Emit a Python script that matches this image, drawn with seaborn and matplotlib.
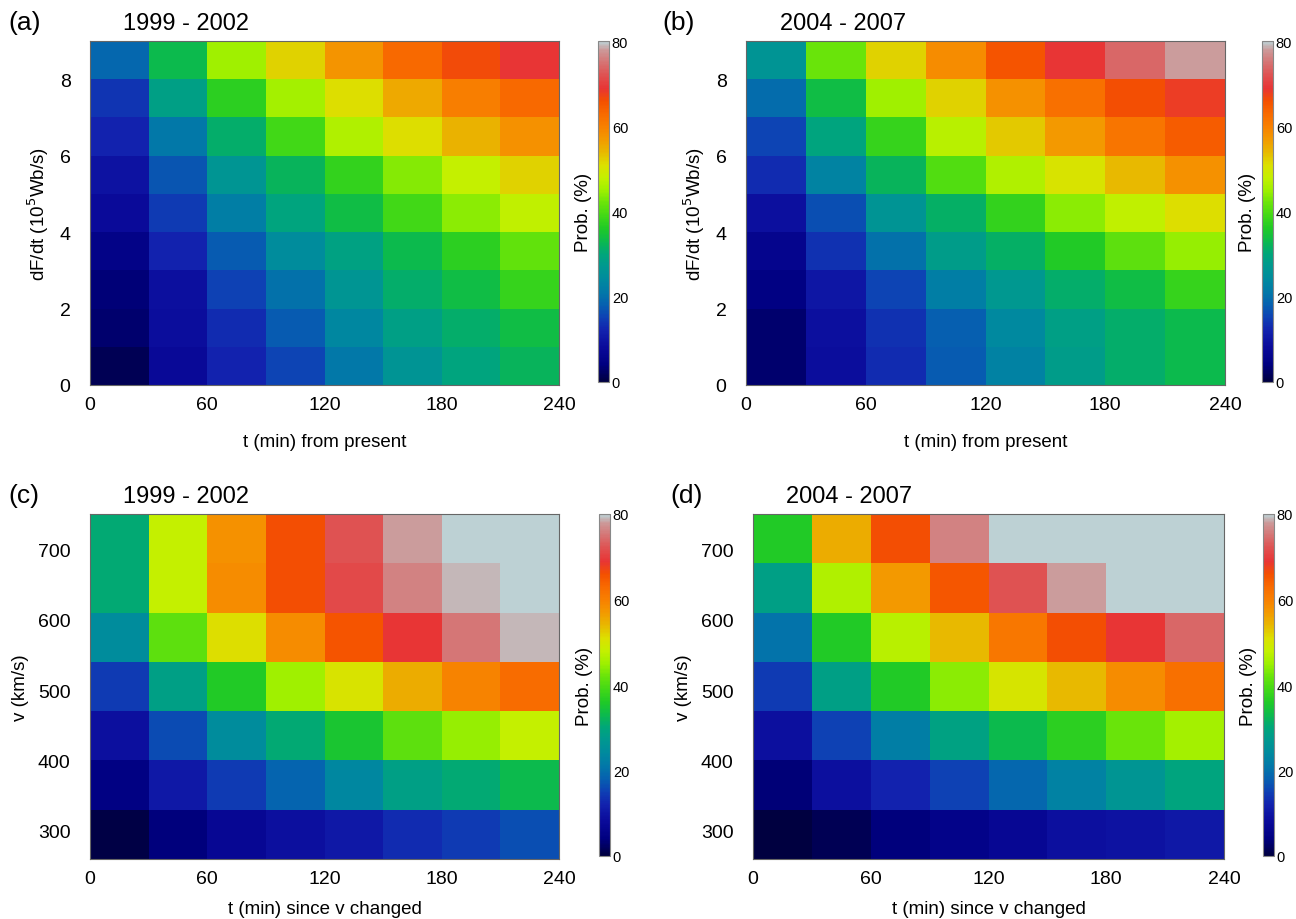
import matplotlib
matplotlib.use("Agg")
import matplotlib.pyplot as plt
from matplotlib.colors import LinearSegmentedColormap
from matplotlib.ticker import MultipleLocator
import numpy as np
import pandas as pd
import seaborn as sns

# time bins (min), 30 min wide, 0..240
t_edges = [0, 30, 60, 90, 120, 150, 180, 210, 240]
# dF/dt bins (10^5 Wb/s), bottom to top
dfdt_edges = [0, 1, 2, 3, 4, 5, 6, 7, 8, 9]
# v bins (km/s), bottom to top
v_edges = [260, 330, 400, 470, 540, 610, 680, 750]

# probabilities (%), rows listed bottom -> top
prob_a = [
    [1.5, 7.5, 12, 15.5, 21, 26, 29.5, 32],
    [3, 8.5, 13, 17.5, 23.5, 28.5, 31, 33.5],
    [3.5, 9, 15, 20, 26.5, 31, 33.5, 38],
    [5, 12, 17.5, 24.5, 29, 33, 37, 41.5],
    [8, 14.5, 22, 29.5, 33.5, 39, 44, 47.5],
    [9.5, 17, 26.5, 32, 37.5, 43.5, 48, 52],
    [12, 21, 31, 39, 46.5, 51, 54.5, 58],
    [14, 28.5, 37, 45.5, 51, 55.5, 60, 63],
    [19, 33, 45, 52, 57.5, 63, 66.5, 69],
]
prob_b = [
    [3, 8.5, 13, 17.5, 22.5, 28, 31, 33],
    [3, 9, 13.5, 18, 24, 28.5, 31, 33],
    [4.5, 10, 15.5, 22, 27, 31, 33.5, 38],
    [6, 13.5, 20, 28, 31.5, 36, 41, 44.5],
    [9, 16.5, 26, 31.5, 37.5, 44, 47.5, 51],
    [13, 23, 32, 40, 46.5, 50.5, 54, 58],
    [15.5, 29.5, 38, 47, 52.5, 57, 61.5, 64.5],
    [19.5, 33.5, 45, 52, 58, 62, 66, 68],
    [26, 42, 52, 58.5, 65.5, 69, 74, 78],
]
prob_c = [
    [0.5, 4, 7, 9, 10.5, 13, 14.5, 16.5],
    [4.5, 10.5, 14.5, 18.5, 23.5, 28.5, 30.5, 33],
    [9, 16, 24.5, 30.5, 35, 41, 44.5, 48],
    [14.5, 28.5, 36, 45, 50.5, 55, 59.5, 62.5],
    [24.5, 41, 51, 58.5, 65.5, 69, 75, 78.8],
    [30.5, 48, 58.5, 66, 71, 76, 79, 85],
    [30.5, 48, 58, 66, 72, 78, 85, 85],
]
prob_d = [
    [0, 1.5, 4, 5.5, 7, 9, 9.5, 10.5],
    [3.5, 9, 12, 15, 19, 22.5, 26.5, 29.5],
    [9, 15, 22, 29, 33, 37, 42, 45.5],
    [14.5, 28.5, 36, 44, 50, 54, 58.5, 62],
    [20.5, 36, 47, 54, 61, 66, 69, 74],
    [28.5, 46.5, 57, 65, 72, 78, 85, 85],
    [36, 55, 66, 76, 85, 85, 85, 85],
]

panels = [
    ("(a)", "1999 - 2002", prob_a, dfdt_edges, "dF/dt (10$^5$Wb/s)", "t (min) from present", [0, 2, 4, 6, 8]),
    ("(b)", "2004 - 2007", prob_b, dfdt_edges, "dF/dt (10$^5$Wb/s)", "t (min) from present", [0, 2, 4, 6, 8]),
    ("(c)", "1999 - 2002", prob_c, v_edges, "v (km/s)", "t (min) since v changed", [300, 400, 500, 600, 700]),
    ("(d)", "2004 - 2007", prob_d, v_edges, "v (km/s)", "t (min) since v changed", [300, 400, 500, 600, 700]),
]

# rainbow-like colour table, black -> blue -> green -> yellow -> red -> light grey
anchors = [
    (0, "#000040"), (4, "#000080"), (8, "#0A0A9A"), (12, "#1222AE"),
    (15, "#0E40B4"), (18, "#0660B0"), (21, "#0278A8"), (24, "#008A9E"),
    (27, "#009890"), (30, "#00A67A"), (33, "#0CBA4C"), (36, "#20CA26"),
    (39, "#42D816"), (42, "#68E40A"), (45, "#9EF000"), (48, "#C4F000"),
    (51, "#DCE000"), (54, "#E8B800"), (57, "#F39A00"), (60, "#F88000"),
    (63, "#F86A00"), (66, "#F45000"), (69, "#E83535"), (72, "#E05050"),
    (75, "#D67272"), (78, "#CC9999"), (80, "#BDD1D4"),
]
cmap = LinearSegmentedColormap.from_list("prob", [(v / 80, c) for v, c in anchors])

sns.set_theme(style="white")
plt.rcParams["font.family"] = ["Liberation Sans", "DejaVu Sans"]
plt.rcParams["text.color"] = "black"
plt.rcParams["axes.labelcolor"] = "black"
plt.rcParams["xtick.color"] = "black"
plt.rcParams["ytick.color"] = "black"

fig = plt.figure(figsize=(12.96, 9.2), dpi=100)
W, H = 1296, 920

# pixel boxes: heatmap (left, top, right, bottom), colorbar (left, right), xlabel pad
boxes = [
    ((90, 42, 559, 386), (598, 609), 14),
    ((746, 42, 1225, 386), (1262, 1273), 14),
    ((90, 515, 559, 860), (599, 610), 9),
    ((753, 515, 1224, 860), (1263, 1274), 9),
]

for (letter, title, prob, y_edges, ylabel, xlabel, yticks), (box, cb, xpad) in zip(panels, boxes):
    l, t, r, b = box
    ax = fig.add_axes([l / W, 1 - b / H, (r - l) / W, (b - t) / H])
    cax = fig.add_axes([cb[0] / W, 1 - (b - 3) / H, (cb[1] - cb[0]) / W, (b - 3 - t) / H])

    df = pd.DataFrame(prob, index=y_edges[:-1], columns=t_edges[:-1])
    sns.heatmap(df, ax=ax, cbar_ax=cax, cmap=cmap, vmin=0, vmax=80,
                xticklabels=False, yticklabels=False)
    ax.invert_yaxis()

    # ticks in data units mapped onto cell positions
    step_t = t_edges[1] - t_edges[0]
    ax.set_xticks([v / step_t for v in [0, 60, 120, 180, 240]])
    ax.set_xticklabels(["0", "60", "120", "180", "240"])
    y0, dy = y_edges[0], y_edges[1] - y_edges[0]
    ax.set_yticks([(v - y0) / dy for v in yticks])
    ax.set_yticklabels([str(v) for v in yticks])
    ax.tick_params(axis="both", labelsize=14, length=0, pad=8)
    ax.tick_params(axis="y", pad=14)
    for s in ax.spines.values():
        s.set_visible(True)
        s.set_color("#666666")
        s.set_linewidth(0.8)

    ax.set_xlabel(xlabel, fontsize=13.5, labelpad=xpad)
    ax.set_ylabel(ylabel, fontsize=13.5, labelpad=6)
    ax.text(0.07, 1.02, title, transform=ax.transAxes, fontsize=17, ha="left", va="bottom")
    ax.text(-0.175, 1.02, letter, transform=ax.transAxes, fontsize=19, ha="left", va="bottom")

    cbar = ax.collections[0].colorbar
    cbar.set_ticks([0, 20, 40, 60, 80])
    cbar.ax.yaxis.set_minor_locator(MultipleLocator(5))
    cbar.ax.tick_params(which="both", labelsize=10.5, direction="in", length=3, width=0.6,
                        colors="black", pad=2)
    cbar.ax.tick_params(which="minor", length=2)
    cbar.outline.set_edgecolor("#888888")
    cbar.outline.set_linewidth(0.8)
    cbar.ax.yaxis.set_label_position("left")
    cbar.set_label("Prob. (%)", fontsize=13.5, labelpad=4)

fig.savefig("out.png", dpi=100)
